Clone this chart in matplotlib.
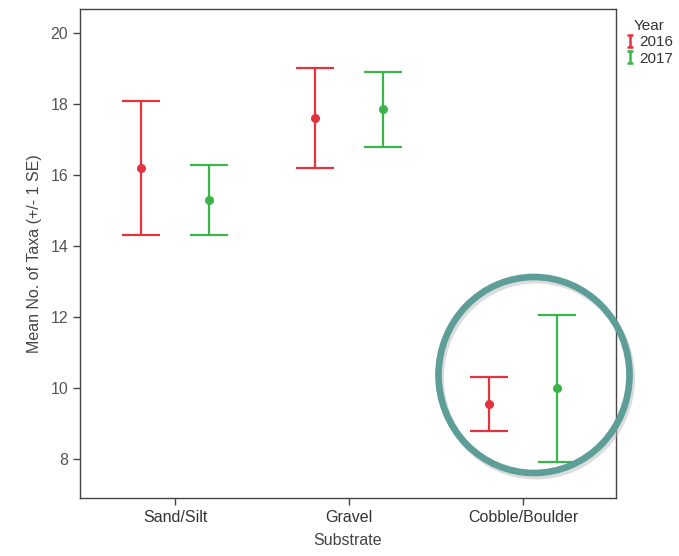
import matplotlib
matplotlib.use("Agg")
import matplotlib.pyplot as plt
from matplotlib.patches import Ellipse
from matplotlib.path import Path
from matplotlib.lines import Line2D
import numpy as np

plt.rcParams['font.family'] = ['Liberation Sans', 'DejaVu Sans']

categories = ["Sand/Silt", "Gravel", "Cobble/Boulder"]
years = ["2016", "2017"]
mean_2016 = [16.2, 17.6, 9.55]
upper_2016 = [18.1, 19.02, 10.3]
lower_2016 = [14.3, 16.2, 8.78]
mean_2017 = [15.3, 17.85, 10.0]
upper_2017 = [16.28, 18.9, 12.07]
lower_2017 = [14.3, 16.8, 7.92]
yticks = [8, 10, 12, 14, 16, 18, 20]

colors = {"2016": "#e2333f", "2017": "#3bb54a"}
series = {
    "2016": (mean_2016, upper_2016, lower_2016),
    "2017": (mean_2017, upper_2017, lower_2017),
}
offsets = {"2016": -0.195, "2017": 0.195}

fig = plt.figure(figsize=(6.79, 5.56), dpi=100)
ax = fig.add_axes([0.1178, 0.1043, 0.7894, 0.8795])

x = np.arange(len(categories))
for yr in years:
    m, u, l = series[yr]
    m = np.array(m); u = np.array(u); l = np.array(l)
    ax.errorbar(x + offsets[yr], m, yerr=[m - l, u - m], fmt='o',
                color=colors[yr], ecolor=colors[yr], elinewidth=1.6,
                capsize=14, capthick=1.6, markersize=5.5, zorder=3)

ax.set_xlim(-0.546, 2.534)
ax.set_ylim(6.9, 20.68)
ax.set_xticks(x)
ax.set_xticklabels(categories, fontsize=11.5, color="#333333")
ax.set_yticks(yticks)
ax.set_yticklabels([str(t) for t in yticks], fontsize=11.5, color="#555555")
ax.tick_params(axis='both', length=5, width=1.0, color="#444444")
for s in ax.spines.values():
    s.set_color("#444444")
    s.set_linewidth(1.0)
ax.set_xlabel("Substrate", fontsize=11.5, color="#444444", labelpad=6)
ax.set_ylabel("Mean No. of Taxa (+/- 1 SE)", fontsize=11.5, color="#444444", labelpad=6)

# Legend with I-shaped markers
ipath = Path([(-0.5, 1), (0.5, 1), (0, 1), (0, -1), (-0.5, -1), (0.5, -1)],
             [Path.MOVETO, Path.LINETO, Path.MOVETO, Path.LINETO, Path.MOVETO, Path.LINETO])
handles = [Line2D([], [], linestyle='none', marker=ipath, markersize=9,
                  markeredgewidth=1.8, color=colors[yr], markerfacecolor='none')
           for yr in years]
leg = fig.legend(handles, years, title="Year", loc='upper left',
                 bbox_to_anchor=(0.905, 0.985), frameon=False, fontsize=11,
                 title_fontsize=11, handlelength=0.6, handletextpad=0.3,
                 labelspacing=0.15, borderpad=0.2)
for t in leg.get_texts():
    t.set_color("#333333")
leg.get_title().set_color("#333333")

# Highlight circle (with faint shadow)
trans = fig.transFigure
cx, cy = 534 / 679, 1 - 375 / 556
w, h = 191 / 679, 196 / 556
shadow = Ellipse((cx + 2 / 679, cy - 3 / 556), w, h, transform=trans, fill=False,
                 edgecolor="#bbbbbb", linewidth=5, alpha=0.5, zorder=9)
circ = Ellipse((cx, cy), w, h, transform=trans, fill=False,
               edgecolor="#5d9e98", linewidth=4.8, zorder=10)
fig.patches.extend([shadow, circ])

fig.savefig("out.png", dpi=100)
